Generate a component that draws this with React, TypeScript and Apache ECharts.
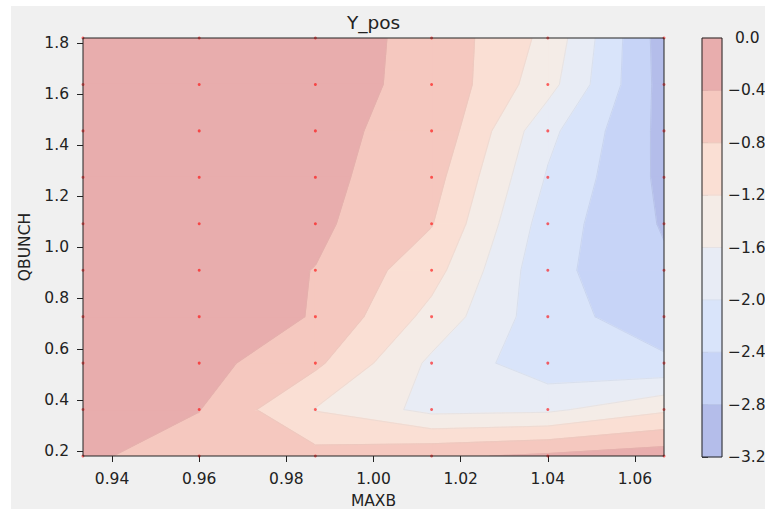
import React, { useEffect, useRef } from "react";
import * as echarts from "echarts";

// Grid coordinates of the scan
const MAXB = [0.933333, 0.96, 0.986667, 1.013333, 1.04, 1.066667];
const QBUNCH = [0.18, 0.362222, 0.544444, 0.726667, 0.908889, 1.091111, 1.273333, 1.455556, 1.637778, 1.82];

// Y_pos, one row per QBUNCH value (bottom to top), one column per MAXB value
const Y_POS: number[][] = [
  [-0.33, -0.6, -0.67, -0.47, -0.33, -0.18],
  [-0.22, -0.39, -1.22, -1.72, -1.68, -1.27],
  [-0.16, -0.25, -0.72, -1.68, -2.26, -2.33],
  [-0.13, -0.2, -0.42, -1.33, -2.25, -2.62],
  [-0.11, -0.2, -0.41, -1.04, -2.29, -2.73],
  [-0.1, -0.18, -0.317, -0.78, -2.2, -2.84],
  [-0.09, -0.17, -0.3, -0.63, -2.04, -2.9],
  [-0.09, -0.16, -0.357, -0.46, -1.89, -2.92],
  [-0.08, -0.15, -0.33, -0.45, -1.45, -2.96],
  [-0.07, -0.13, -0.24, -0.5, -1.31, -3.0],
];

// Contour levels (ascending) and the fill of each band between them
const LEVELS = [-3.2, -2.8, -2.4, -2.0, -1.6, -1.2, -0.8, -0.4, 0.0];
const BAND_COLORS = ["#b4bdea", "#c7d4f7", "#d9e4fa", "#e8ecf5", "#f4ece7", "#fadfd4", "#f5c8bf", "#e8adad"];

const X_TICKS = [0.94, 0.96, 0.98, 1.0, 1.02, 1.04, 1.06];
const Y_TICKS = [0.2, 0.4, 0.6, 0.8, 1.0, 1.2, 1.4, 1.6, 1.8];

const FONT = "DejaVu Sans";
const INK = "#222";
const TICK_FONT = 15.5;

type P = { x: number; y: number; z: number };

function clipPoly(poly: P[], level: number, keepAbove: boolean): P[] {
  const out: P[] = [];
  const inside = (p: P) => (keepAbove ? p.z >= level : p.z <= level);
  for (let k = 0; k < poly.length; k++) {
    const a = poly[k];
    const b = poly[(k + 1) % poly.length];
    const ain = inside(a);
    const bin = inside(b);
    if (ain) out.push(a);
    if (ain !== bin) {
      const t = (level - a.z) / (b.z - a.z);
      out.push({ x: a.x + t * (b.x - a.x), y: a.y + t * (b.y - a.y), z: level });
    }
  }
  return out;
}

function hexToRgb(h: string): number[] {
  const n = parseInt(h.slice(1), 16);
  return [(n >> 16) & 255, (n >> 8) & 255, n & 255];
}

// Boundary line colour: the two neighbouring fills mixed and darkened a little
function lineColor(k: number): string {
  const a = hexToRgb(BAND_COLORS[k - 1]);
  const b = hexToRgb(BAND_COLORS[k]);
  const c = a.map((v, i) => Math.round(((v + b[i]) / 2) * 0.95));
  return `rgb(${c[0]},${c[1]},${c[2]})`;
}

function cellCorners(api: any): P[] {
  const i = api.value(2);
  const j = api.value(3);
  const idx = [
    [i, j],
    [i + 1, j],
    [i + 1, j + 1],
    [i, j + 1],
  ];
  return idx.map(([ii, jj]) => {
    const p = api.coord([MAXB[ii], QBUNCH[jj]]);
    return { x: p[0], y: p[1], z: Y_POS[jj][ii] };
  });
}

function renderBands(_params: any, api: any) {
  const quad = cellCorners(api);
  const children: any[] = [];
  for (let k = 0; k < BAND_COLORS.length; k++) {
    const poly = clipPoly(clipPoly(quad, LEVELS[k], true), LEVELS[k + 1], false);
    if (poly.length >= 3) {
      children.push({
        type: "polygon",
        shape: { points: poly.map((p) => [p.x, p.y]) },
        style: { fill: BAND_COLORS[k], stroke: BAND_COLORS[k], lineWidth: 1.2 },
      });
    }
  }
  return { type: "group", children };
}

function renderLines(_params: any, api: any) {
  const quad = cellCorners(api);
  const children: any[] = [];
  for (let k = 1; k < LEVELS.length - 1; k++) {
    const L = LEVELS[k];
    const pts: number[][] = [];
    for (let e = 0; e < 4; e++) {
      const a = quad[e];
      const b = quad[(e + 1) % 4];
      if ((a.z - L) * (b.z - L) < 0) {
        const t = (L - a.z) / (b.z - a.z);
        pts.push([a.x + t * (b.x - a.x), a.y + t * (b.y - a.y)]);
      }
    }
    for (let s = 0; s + 1 < pts.length; s += 2) {
      children.push({
        type: "line",
        shape: { x1: pts[s][0], y1: pts[s][1], x2: pts[s + 1][0], y2: pts[s + 1][1] },
        style: { stroke: lineColor(k), lineWidth: 1, opacity: 0.8 },
      });
    }
  }
  return { type: "group", children };
}

function renderColorbar(_params: any, api: any) {
  const k = api.value(0);
  const p1 = api.coord([0, LEVELS[k + 1]]);
  const p2 = api.coord([1, LEVELS[k]]);
  const children: any[] = [
    {
      type: "rect",
      shape: { x: p1[0], y: p1[1], width: p2[0] - p1[0], height: p2[1] - p1[1] },
      style: { fill: BAND_COLORS[k], stroke: BAND_COLORS[k], lineWidth: 0.5 },
    },
  ];
  if (k > 0) {
    children.push({
      type: "line",
      shape: { x1: p1[0], y1: p2[1], x2: p2[0], y2: p2[1] },
      style: { stroke: lineColor(k), lineWidth: 1, opacity: 0.8 },
    });
  }
  return { type: "group", children };
}

function levelLabel(v: number): string {
  if (Math.abs(v) < 1e-9) return "{zero|0.0}";
  return (v < 0 ? "\u2212" : "") + Math.abs(v).toFixed(1);
}

export default function App() {
  const ref = useRef<HTMLDivElement>(null);

  useEffect(() => {
    if (!ref.current) return;
    const chart = echarts.init(ref.current, undefined, { renderer: "svg" });

    const cells: number[][] = [];
    for (let j = 0; j < QBUNCH.length - 1; j++) {
      for (let i = 0; i < MAXB.length - 1; i++) {
        cells.push([MAXB[i], QBUNCH[j], i, j]);
      }
    }
    const samples: number[][] = [];
    for (let j = 0; j < QBUNCH.length; j++) {
      for (let i = 0; i < MAXB.length; i++) samples.push([MAXB[i], QBUNCH[j]]);
    }

    const tickStyle = { show: true, inside: false, length: 6, lineStyle: { color: INK, width: 1 } };
    const labelStyle = { color: INK, fontFamily: FONT, fontSize: TICK_FONT };
    const gridBase = {
      show: true,
      borderColor: INK,
      borderWidth: 1,
      backgroundColor: "transparent",
      containLabel: false,
      outerBoundsMode: "none",
      z: 10,
    };

    chart.setOption({
      animation: false,
      backgroundColor: "#f0f0f0",
      textStyle: { fontFamily: FONT },
      grid: [
        { ...gridBase, left: 72, top: 32, width: 581, height: 418 },
        { ...gridBase, left: 691, top: 32, width: 20, height: 419 },
      ],
      xAxis: [
        {
          type: "value",
          gridIndex: 0,
          min: MAXB[0],
          max: MAXB[MAXB.length - 1],
          splitLine: { show: false },
          axisLine: { show: false },
          axisTick: { ...tickStyle, customValues: X_TICKS },
          axisLabel: { ...labelStyle, margin: 15, customValues: X_TICKS, formatter: (v: number) => v.toFixed(2) },
          name: "MAXB",
          nameLocation: "middle",
          nameGap: 37,
          nameTextStyle: { color: INK, fontFamily: FONT, fontSize: TICK_FONT },
        },
        {
          type: "value",
          gridIndex: 0,
          position: "top",
          min: MAXB[0],
          max: MAXB[MAXB.length - 1],
          splitLine: { show: false },
          axisLine: { show: false },
          axisTick: { show: false },
          axisLabel: { show: false },
          name: "Y_pos",
          nameLocation: "middle",
          nameGap: 6,
          nameTextStyle: { color: INK, fontFamily: FONT, fontSize: 18.5 },
        },
        { type: "value", gridIndex: 1, min: 0, max: 1, show: false },
      ],
      yAxis: [
        {
          type: "value",
          gridIndex: 0,
          min: QBUNCH[0],
          max: QBUNCH[QBUNCH.length - 1],
          splitLine: { show: false },
          axisLine: { show: false },
          axisTick: { ...tickStyle, customValues: Y_TICKS },
          axisLabel: { ...labelStyle, margin: 14, customValues: Y_TICKS, formatter: (v: number) => v.toFixed(1) },
          name: "QBUNCH",
          nameLocation: "middle",
          nameGap: 46,
          nameTextStyle: { color: INK, fontFamily: FONT, fontSize: TICK_FONT },
        },
        {
          type: "value",
          gridIndex: 1,
          position: "right",
          min: LEVELS[0],
          max: LEVELS[LEVELS.length - 1],
          interval: 0.4,
          splitLine: { show: false },
          axisLine: { show: false },
          axisTick: tickStyle,
          axisLabel: {
            ...labelStyle,
            margin: 6,
            showMinLabel: true,
            showMaxLabel: true,
            formatter: levelLabel,
            rich: { zero: { color: INK, fontFamily: FONT, fontSize: TICK_FONT, padding: [0, 0, 0, 7] } },
          },
        },
      ],
      series: [
        {
          type: "custom",
          name: "Y_pos",
          xAxisIndex: 0,
          yAxisIndex: 0,
          data: cells,
          renderItem: renderBands,
          clip: true,
          silent: true,
          z: 2,
        },
        {
          type: "custom",
          name: "contours",
          xAxisIndex: 0,
          yAxisIndex: 0,
          data: cells,
          renderItem: renderLines,
          clip: true,
          silent: true,
          z: 3,
        },
        {
          type: "scatter",
          name: "samples",
          xAxisIndex: 0,
          yAxisIndex: 0,
          data: samples,
          symbol: "circle",
          symbolSize: 3,
          itemStyle: { color: "rgba(255,0,0,0.75)" },
          silent: true,
          z: 4,
        },
        {
          type: "custom",
          name: "colorbar",
          xAxisIndex: 2,
          yAxisIndex: 1,
          data: BAND_COLORS.map((_, k) => [k]),
          renderItem: renderColorbar,
          silent: true,
          z: 2,
        },
      ],
    });

    return () => chart.dispose();
  }, []);

  return (
    <div style={{ position: "fixed", left: 0, top: 0, width: 765, height: 509, background: "#fff", overflow: "hidden" }}>
      <div ref={ref} style={{ position: "absolute", left: 11, top: 6, width: 754, height: 503 }} />
    </div>
  );
}
